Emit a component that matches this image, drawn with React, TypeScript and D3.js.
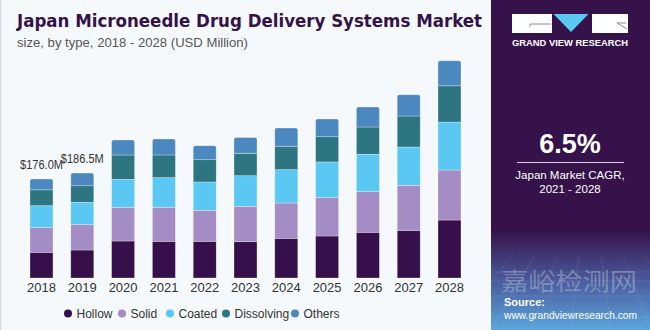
import React from "react";
import * as d3 from "d3";

const years = ["2018", "2019", "2020", "2021", "2022", "2023", "2024", "2025", "2026", "2027", "2028"];
const seriesNames = ["Hollow", "Solid", "Coated", "Dissolving", "Others"];
const hollow = [45.7, 49.8, 65.8, 65.3, 65.3, 64.5, 70.6, 74.7, 81.3, 84.8, 103.1];
const solid = [43.7, 45.7, 59.9, 60.5, 55.1, 62.9, 62.8, 68.1, 72.2, 80.0, 88.9];
const coated = [39.1, 39.1, 49.8, 52.6, 50.3, 54.4, 59.2, 63.5, 66.5, 68.1, 85.3];
const dissolving = [28.4, 29.5, 43.2, 40.4, 39.7, 39.8, 41.6, 45.0, 48.5, 55.1, 64.5];
const others = [19.1, 22.4, 26.7, 28.4, 24.9, 28.4, 32.5, 31.5, 35.6, 37.9, 44.5];
const colors = ["#35104a", "#a48cc4", "#5bc8f4", "#2c7581", "#4c88c0"];
const annotations = [
  { year: "2018", label: "$176.0M" },
  { year: "2019", label: "$186.5M" },
];

const W = 650;
const H = 330;
const FONT = "'Liberation Sans', Arial, sans-serif";

export default function App() {
  const seriesValues = [hollow, solid, coated, dissolving, others];
  const rows = years.map((y, i) => {
    const r: any = { year: y };
    seriesNames.forEach((s, k) => (r[s] = seriesValues[k][i]));
    return r;
  });
  const stack = d3.stack<any>().keys(seriesNames)(rows);

  const x = d3
    .scaleBand<string>()
    .domain(years)
    .range([21.1, 469.9])
    .paddingInner(0.436)
    .paddingOuter(0.218);
  const y = d3.scaleLinear().domain([0, 400]).range([278, 53]);

  const totals = rows.map((r) => seriesNames.reduce((a, s) => a + r[s], 0));
  const bw = x.bandwidth();

  const topPath = (x0: number, y0: number, w: number, h: number, r: number) => {
    const p = d3.path();
    p.moveTo(x0, y0 + h);
    p.lineTo(x0, y0 + r);
    p.quadraticCurveTo(x0, y0, x0 + r, y0);
    p.lineTo(x0 + w - r, y0);
    p.quadraticCurveTo(x0 + w, y0, x0 + w, y0 + r);
    p.lineTo(x0 + w, y0 + h);
    p.closePath();
    return p.toString();
  };

  const legendX = [68, 122, 170, 226, 295];

  return (
    <svg width={W} height={H} style={{ position: "absolute", left: 0, top: 0 }} fontFamily={FONT}>
      <defs>
        <linearGradient id="panelGrad" x1="0" y1="0" x2="0" y2="1">
          <stop offset="0" stopColor="#35134a" />
          <stop offset="0.7" stopColor="#35134a" />
          <stop offset="0.85" stopColor="#4a5a9c" />
          <stop offset="1" stopColor="#5aa6dc" />
        </linearGradient>
      </defs>
      <rect x={0} y={0} width={W} height={H} fill="#f5f9fc" />
      <rect x={0} y={0} width={1.5} height={H} fill="#d9dde2" />

      {/* Title */}
      <text x={17} y={27} fontSize={17.5} fontWeight="bold" fill="#34124a" textLength={465} lengthAdjust="spacingAndGlyphs" fontFamily="'DejaVu Sans', sans-serif">
        Japan Microneedle Drug Delivery Systems Market
      </text>
      <text x={17} y={47} fontSize={12} fill="#555" textLength={231} lengthAdjust="spacingAndGlyphs">
        size, by type, 2018 - 2028 (USD Million)
      </text>

      {/* Bars */}
      {stack.map((s, k) => (
        <g key={s.key}>
          {s.map((d, i) => {
            const x0 = x(years[i])!;
            const y0 = y(d[1]);
            const h = y(d[0]) - y(d[1]);
            return k === stack.length - 1 ? (
              <path key={i} d={topPath(x0, y0, bw, h, 2)} fill={colors[k]} stroke="#ffffff" strokeOpacity={0.5} strokeWidth={0.6} />
            ) : (
              <rect key={i} x={x0} y={y0} width={bw} height={h} fill={colors[k]} stroke="#ffffff" strokeOpacity={0.5} strokeWidth={0.6} />
            );
          })}
        </g>
      ))}

      {/* Annotations */}
      {annotations.map((a) => {
        const i = years.indexOf(a.year);
        return (
          <text key={a.year} x={x(a.year)! + bw / 2} y={y(totals[i]) - 10} fontSize={12.5} fill="#333" textAnchor="middle" textLength={43} lengthAdjust="spacingAndGlyphs">
            {a.label}
          </text>
        );
      })}

      {/* Year labels */}
      {years.map((yr) => (
        <text key={yr} x={x(yr)! + bw / 2} y={292} fontSize={13} fill="#333" textAnchor="middle">
          {yr}
        </text>
      ))}

      {/* Legend */}
      {seriesNames.map((s, k) => (
        <g key={s}>
          <circle cx={legendX[k]} cy={313.5} r={4} fill={colors[k]} />
          <text x={legendX[k] + 8.5} y={317.5} fontSize={12} fill="#333">
            {s}
          </text>
        </g>
      ))}

      {/* Right panel */}
      <rect x={491} y={0} width={159} height={H} fill="url(#panelGrad)" />
      {d3.range(0, 9).map((i) => (
        <line key={"g" + i} x1={491 + i * 22} y1={255} x2={491 + (i - 4) * 40 + 80} y2={330} stroke="#ffffff" strokeOpacity={0.12} strokeWidth={0.7} />
      ))}
      {d3.range(0, 5).map((i) => (
        <line key={"h" + i} x1={491} y1={272 + i * i * 3 + i * 6} x2={650} y2={272 + i * i * 3 + i * 6} stroke="#ffffff" strokeOpacity={0.12} strokeWidth={0.7} />
      ))}

      {/* Logo */}
      <rect x={512} y={14} width={40} height={19} fill="#ffffff" />
      <path d="M530 24 L551 24 M530 24 L530 27" stroke="#8a8a9a" strokeWidth={1} fill="none" />
      <path d="M553.5 14 L588.5 14 L571 32 Z" fill="#5bc8f4" />
      <rect x={592} y={14} width={36} height={19} fill="#ffffff" />
      <path d="M617 23 L626 23 M617 23 L627 29" stroke="#8a8a9a" strokeWidth={1} fill="none" />
      <text x={570} y={46} fontSize={8.5} fontWeight="bold" fill="#ffffff" textAnchor="middle" textLength={116} lengthAdjust="spacingAndGlyphs">
        GRAND VIEW RESEARCH
      </text>

      <text x={570} y={153} fontSize={27} fontWeight="bold" fill="#ffffff" textAnchor="middle">
        6.5%
      </text>
      <line x1={517} y1={162.5} x2={624} y2={162.5} stroke="#d8d2e0" strokeWidth={1} />
      <text x={570} y={179} fontSize={11.5} fill="#ffffff" textAnchor="middle">
        Japan Market CAGR,
      </text>
      <text x={570} y={193} fontSize={11.5} fill="#ffffff" textAnchor="middle">
        2021 - 2028
      </text>

      <text x={569} y={290} fontSize={24} fill="#ffffff" fillOpacity={0.28} textAnchor="middle" fontFamily="'Noto Sans CJK SC', sans-serif" textLength={136} lengthAdjust="spacingAndGlyphs">
        嘉峪检测网
      </text>
      <text x={504} y={306} fontSize={11} fontWeight="bold" fill="#ffffff">
        Source:
      </text>
      <text x={504} y={319} fontSize={10.5} fill="#ffffff" textLength={133} lengthAdjust="spacingAndGlyphs">
        www.grandviewresearch.com
      </text>
    </svg>
  );
}
